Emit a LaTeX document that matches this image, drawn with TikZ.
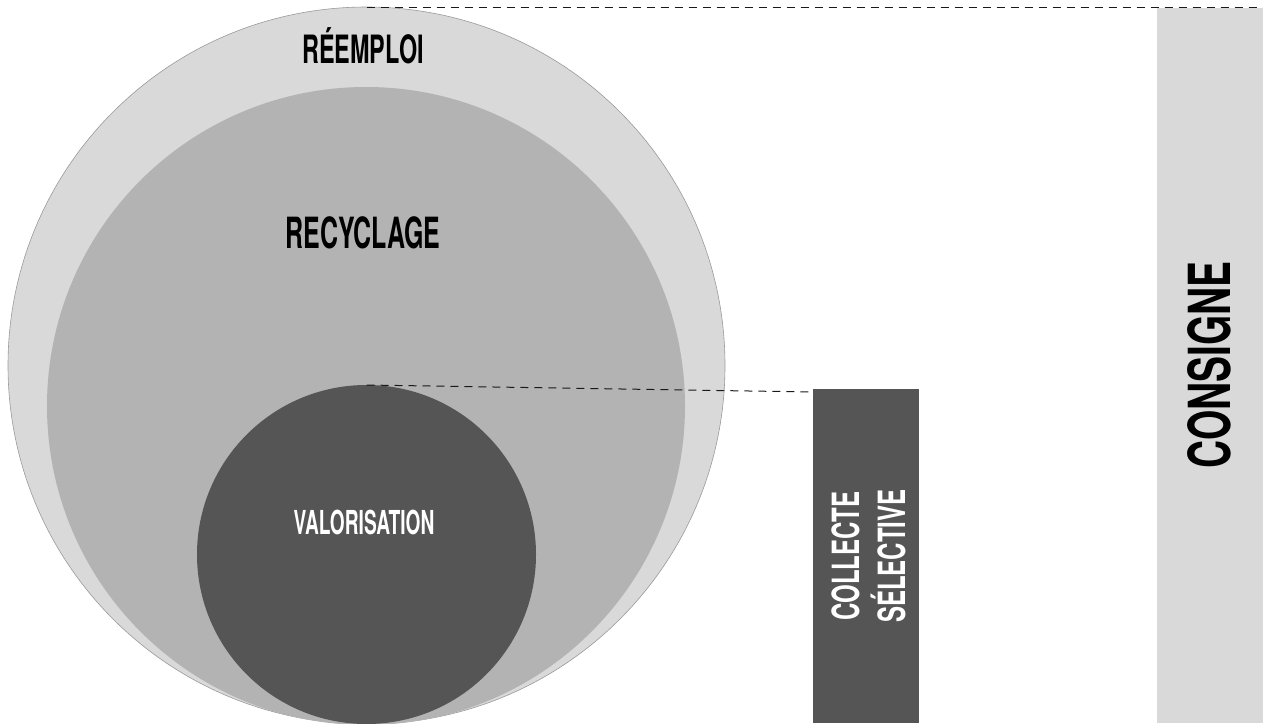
\documentclass[tikz,border=0pt]{standalone}
\usepackage{fontspec}
\newfontfamily\condA{TeX Gyre Heros}[FakeStretch=0.58]
\newfontfamily\condR{TeX Gyre Heros}[FakeStretch=0.60]
\newfontfamily\condB{TeX Gyre Heros}[FakeStretch=0.64]
\newfontfamily\condC{TeX Gyre Heros}[FakeStretch=0.67]
\definecolor{light}{HTML}{D9D9D9}
\definecolor{mid}{HTML}{B3B3B3}
\definecolor{dark}{HTML}{555555}
\definecolor{rim}{HTML}{9A9A9A}
\begin{document}
\begin{tikzpicture}[x=1pt,y=1pt,
  disc/.style={circle, inner sep=0pt, outer sep=0pt},
  lbl/.style={anchor=base, inner sep=0pt, outer sep=0pt},
  bar/.style={rectangle, anchor=north west, inner sep=0pt, outer sep=0pt},
  dashline/.style={dash pattern=on 8pt off 6pt, line width=1pt, black!90}]
\useasboundingbox (0,0) rectangle (1263,-723);
% circles
\node[disc, fill=light, draw=rim, line width=0.6pt, minimum size=717pt] (reemploi) at (366.5,-365.5) {};
\node[disc, fill=mid, minimum size=638pt] (recyclage) at (366,-406) {};
\node[disc, fill=dark, minimum size=339pt] (valorisation) at (366.5,-554.5) {};
% bars
\node[bar, fill=dark, minimum width=106pt, minimum height=334pt] (collecte) at (813,-389) {};
\node[bar, fill=light, minimum width=106pt, minimum height=715pt] (consigne) at (1157,-8) {};
% dashed leaders
\coordinate (edge) at (1263,-6);
\draw[dashline] (reemploi.north) -- (reemploi.north -| edge);
\draw[dashline] (valorisation.north) -- ([yshift=-3pt]collecte.north west);
% labels
\node[lbl, font=\condR\bfseries\fontsize{39}{39}\selectfont] (t1) at (363,-63) {RÉEMPLOI};
\node[lbl, font=\condA\bfseries\fontsize{43}{43}\selectfont] (t2) at (363,-248) {RECYCLAGE};
\node[lbl, text=white, font=\condA\bfseries\fontsize{33}{33}\selectfont] (t3) at (364,-534) {VALORISATION};
\node[lbl, rotate=90, text=white, font=\condB\bfseries\fontsize{37.5}{37.5}\selectfont] (t4) at (859,-556) {COLLECTE};
\node[lbl, rotate=90, text=white, font=\condB\bfseries\fontsize{37.5}{37.5}\selectfont] (t5) at (905,-556) {SÉLECTIVE};
\node[lbl, rotate=90, font=\condC\bfseries\fontsize{58}{58}\selectfont] (t6) at (1230,-365) {CONSIGNE};
\end{tikzpicture}
\end{document}
